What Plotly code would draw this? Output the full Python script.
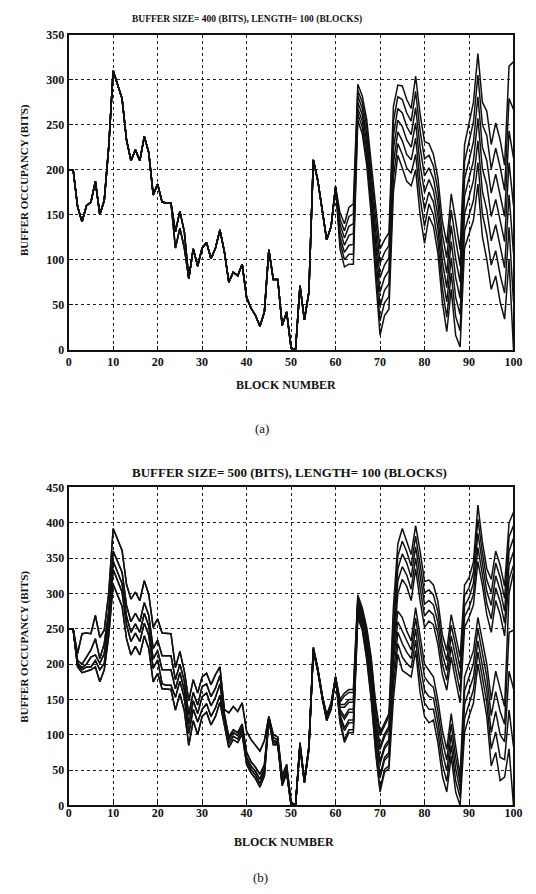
import plotly.graph_objects as go

# ---------------- DATA ----------------
blocks = list(range(101))
x_ticks = [0, 10, 20, 30, 40, 50, 60, 70, 80, 90, 100]
y_ticks_a = [0, 50, 100, 150, 200, 250, 300, 350]
y_ticks_b = [0, 50, 100, 150, 200, 250, 300, 350, 400, 450]
title_a = "BUFFER SIZE= 400 (BITS), LENGTH= 100 (BLOCKS)"
title_b = "BUFFER SIZE= 500 (BITS), LENGTH= 100 (BLOCKS)"

# Panel (a): blocks 0..60 (shared part, two variants)
prefix_a_main = [200, 200, 159, 142, 160, 164, 187, 150, 166, 225,
                 310, 295, 279, 233, 210, 222, 210, 237, 219, 172,
                 184, 164, 163, 163, 131, 154, 131, 79, 112, 93,
                 113, 119, 101, 113, 133, 109, 75, 86, 82, 95,
                 58, 46, 38, 26, 42, 111, 78, 78, 27, 42,
                 2, 0, 71, 33, 64, 211, 188, 155, 122, 137, 181]
prefix_a_alt = [200, 200, 159, 142, 160, 164, 187, 150, 166, 225,
                310, 295, 279, 233, 210, 222, 210, 237, 219, 172,
                184, 164, 163, 163, 113, 135, 113, 79, 112, 93,
                113, 119, 101, 113, 133, 109, 75, 86, 82, 95,
                58, 46, 38, 26, 42, 111, 78, 78, 27, 42,
                2, 0, 71, 33, 64, 211, 188, 155, 122, 137, 181]
# Panel (a): blocks 61..100
tail_a1 = [152, 140, 158, 162, 295, 282, 256, 210, 160, 112, 122, 130, 270, 294, 293, 278, 268, 304, 262, 231,
           229, 217, 191, 143, 118, 173, 143, 111, 228, 250, 275, 329, 275, 265, 228, 252, 233, 205, 315, 320]
tail_a2 = [145, 132, 148, 151, 288, 275, 248, 200, 147, 96, 108, 116, 254, 281, 278, 263, 254, 287, 243, 212,
           216, 204, 177, 128, 102, 155, 122, 93, 209, 230, 253, 305, 250, 238, 201, 224, 203, 177, 279, 267]
tail_a3 = [139, 124, 137, 140, 282, 268, 239, 190, 133, 80, 94, 102, 238, 268, 263, 248, 239, 269, 225, 193,
           202, 190, 163, 113, 85, 138, 101, 75, 190, 210, 231, 281, 225, 210, 174, 195, 173, 148, 243, 213]
tail_a4 = [132, 116, 127, 129, 275, 261, 231, 180, 120, 64, 80, 88, 223, 255, 248, 233, 225, 252, 206, 175,
           189, 177, 149, 98, 69, 120, 80, 57, 171, 190, 210, 257, 201, 183, 148, 167, 143, 120, 208, 160]
tail_a5 = [125, 108, 116, 117, 268, 254, 222, 170, 107, 48, 66, 73, 207, 242, 232, 217, 211, 235, 187, 156,
           175, 164, 135, 83, 53, 102, 58, 39, 151, 169, 188, 232, 176, 155, 121, 139, 113, 91, 172, 107]
tail_a6 = [119, 100, 106, 106, 262, 247, 214, 160, 93, 32, 52, 59, 191, 229, 217, 202, 196, 217, 169, 137,
           162, 150, 121, 68, 36, 85, 37, 21, 132, 149, 166, 208, 151, 128, 94, 110, 83, 63, 136, 53]
tail_a7 = [112, 92, 95, 95, 255, 240, 205, 150, 80, 16, 38, 45, 175, 216, 202, 187, 182, 200, 150, 118,
           148, 137, 107, 53, 20, 67, 16, 3, 113, 129, 144, 184, 126, 100, 67, 82, 53, 34, 100, 0]

# Panel (b): blocks 0..60
prefix_b1 = [250, 250, 215, 243, 244, 243, 269, 238, 248, 300,
             392, 375, 361, 313, 292, 302, 290, 318, 299, 252,
             264, 244, 243, 243, 195, 218, 190, 148, 178, 159,
             182, 187, 171, 185, 196, 136, 131, 140, 133, 145,
             105, 93, 85, 77, 92, 126, 100, 97, 42, 58,
             5, 0, 89, 35, 84, 224, 194, 156, 128, 145, 182]
prefix_b2 = [250, 250, 205, 200, 210, 220, 236, 208, 229, 275,
             360, 345, 330, 283, 260, 272, 260, 287, 269, 222,
             234, 212, 212, 212, 178, 200, 176, 128, 160, 142,
             168, 172, 154, 166, 184, 130, 97, 107, 103, 115,
             75, 62, 54, 44, 58, 124, 96, 93, 35, 52,
             3, 0, 86, 34, 82, 222, 193, 155, 126, 142, 182]
prefix_b3 = [250, 250, 201, 195, 200, 210, 213, 201, 215, 262,
             346, 330, 314, 268, 245, 257, 245, 272, 254, 207,
             219, 192, 192, 192, 165, 188, 163, 115, 148, 130,
             154, 159, 141, 153, 172, 126, 93, 103, 99, 110,
             68, 56, 48, 37, 52, 123, 92, 90, 32, 50,
             2, 0, 85, 33, 81, 221, 192, 154, 124, 140, 181]
prefix_b4 = [250, 250, 198, 192, 196, 196, 205, 192, 201, 250,
             334, 318, 302, 256, 232, 244, 232, 258, 241, 194,
             206, 172, 170, 170, 153, 176, 152, 102, 136, 118,
             136, 144, 126, 138, 156, 120, 88, 98, 94, 106,
             63, 51, 43, 31, 47, 122, 89, 88, 30, 48,
             1, 0, 84, 33, 80, 220, 191, 153, 122, 138, 181]
prefix_b5 = [250, 250, 196, 188, 190, 192, 196, 175, 192, 240,
             313, 298, 282, 236, 213, 225, 213, 240, 222, 175,
             187, 165, 164, 164, 135, 158, 134, 85, 120, 100,
             126, 132, 114, 126, 146, 115, 82, 93, 89, 101,
             58, 46, 38, 26, 42, 121, 86, 86, 28, 46,
             0, 0, 83, 32, 79, 219, 190, 152, 120, 136, 180]
# Panel (b): blocks 61..100, upper group
tail_bu1 = [150, 159, 164, 164, 298, 280, 252, 210, 145, 103, 117, 130, 280, 370, 392, 375, 355, 396, 360, 317,
            319, 312, 289, 242, 219, 270, 242, 210, 312, 322, 345, 425, 373, 335, 320, 360, 340, 310, 400, 415]
tail_bu2 = [143, 143, 150, 150, 291, 273, 242, 196, 129, 83, 101, 112, 264, 353, 374, 359, 339, 381, 343, 301,
            305, 298, 274, 228, 205, 255, 226, 194, 297, 308, 330, 405, 358, 319, 301, 343, 323, 293, 380, 396]
tail_bu3 = [136, 126, 136, 136, 284, 266, 231, 182, 112, 63, 84, 93, 248, 335, 356, 343, 323, 366, 325, 285,
            290, 284, 259, 214, 191, 240, 210, 178, 282, 294, 315, 385, 343, 303, 283, 325, 305, 275, 360, 378]
tail_bu4 = [128, 110, 121, 121, 277, 259, 221, 168, 96, 43, 68, 75, 231, 318, 338, 326, 306, 350, 308, 268,
            276, 270, 243, 200, 177, 225, 193, 161, 267, 280, 299, 365, 327, 286, 264, 308, 288, 258, 340, 359]
tail_bu5 = [121, 93, 107, 107, 270, 252, 210, 154, 79, 23, 51, 56, 215, 300, 320, 310, 290, 335, 290, 252,
            261, 256, 228, 186, 163, 210, 177, 145, 252, 266, 284, 345, 312, 270, 245, 290, 270, 240, 320, 340]
# Panel (b): blocks 61..100, lower group
tail_bd1 = [146, 155, 160, 160, 294, 276, 248, 206, 141, 99, 113, 126, 220, 275, 266, 247, 233, 280, 240, 200,
            191, 182, 149, 107, 79, 130, 84, 42, 182, 200, 219, 266, 233, 200, 150, 190, 165, 140, 300, 330]
tail_bd2 = [139, 139, 146, 146, 287, 269, 238, 192, 125, 79, 97, 108, 203, 260, 247, 232, 220, 265, 220, 182,
            173, 167, 134, 91, 64, 115, 68, 32, 162, 182, 201, 250, 216, 182, 127, 161, 133, 115, 245, 248]
tail_bd3 = [132, 122, 132, 132, 280, 262, 227, 178, 108, 59, 80, 89, 185, 245, 229, 217, 208, 250, 200, 163,
            154, 152, 119, 75, 49, 100, 52, 21, 143, 163, 182, 233, 198, 163, 103, 133, 100, 90, 190, 165]
tail_bd4 = [124, 106, 117, 117, 273, 255, 217, 164, 92, 39, 64, 71, 168, 229, 210, 201, 195, 234, 180, 145,
            136, 136, 104, 58, 34, 85, 35, 11, 123, 145, 164, 217, 181, 145, 80, 104, 68, 65, 135, 83]
tail_bd5 = [117, 89, 103, 103, 266, 248, 206, 150, 75, 19, 47, 52, 150, 214, 191, 186, 182, 219, 160, 126,
            117, 121, 89, 42, 19, 70, 19, 0, 103, 126, 145, 200, 163, 126, 56, 75, 35, 40, 80, 0]

# ---------------- FIGURE ----------------
W, H = 536, 894
OFF = 8  # the page body adds an 8px margin; positions below are screen pixels
SERIF = "Liberation Serif, Times New Roman, serif"
INK = "#111111"
LINE = dict(color=INK, width=1.5)

series_a = [prefix_a_main + tail_a1, prefix_a_main + tail_a2, prefix_a_main + tail_a3,
            prefix_a_main + tail_a4, prefix_a_alt + tail_a5, prefix_a_alt + tail_a6,
            prefix_a_alt + tail_a7]
series_b = [prefix_b1 + tail_bu1, prefix_b2 + tail_bu2, prefix_b3 + tail_bu3,
            prefix_b4 + tail_bu4, prefix_b5 + tail_bu5,
            prefix_b1 + tail_bd1, prefix_b2 + tail_bd2, prefix_b3 + tail_bd3,
            prefix_b4 + tail_bd4, prefix_b5 + tail_bd5]

fig = go.Figure()
for s in series_a:
    fig.add_trace(go.Scatter(x=blocks, y=s, mode="lines", line=LINE,
                             xaxis="x", yaxis="y", showlegend=False, hoverinfo="skip"))
for s in series_b:
    fig.add_trace(go.Scatter(x=blocks, y=s, mode="lines", line=LINE,
                             xaxis="x2", yaxis="y2", showlegend=False, hoverinfo="skip"))


def px_x(p):
    return (p - OFF) / W


def px_y(p):
    return 1 - (p - OFF) / H


axis_common = dict(
    showgrid=True, gridcolor="#222222", griddash="dot", gridwidth=1,
    showline=True, linecolor=INK, linewidth=2, mirror=True,
    ticks="inside", ticklen=4, tickcolor=INK, zeroline=False,
    tickfont=dict(family=SERIF, size=12, color=INK, weight="bold"),
    fixedrange=True,
)

fig.update_layout(
    width=W, height=H,
    margin=dict(l=0, r=0, t=0, b=0),
    paper_bgcolor="white", plot_bgcolor="white",
    xaxis=dict(domain=[px_x(67), px_x(522)], range=[0, 100], tickvals=x_ticks,
               anchor="y", ticklabelstandoff=0, **axis_common),
    yaxis=dict(domain=[px_y(348), px_y(28)], range=[0, 350], tickvals=y_ticks_a,
               anchor="x", ticklabelstandoff=0, **axis_common),
    xaxis2=dict(domain=[px_x(67), px_x(522)], range=[0, 100], tickvals=x_ticks,
                anchor="y2", ticklabelstandoff=-5, **axis_common),
    yaxis2=dict(domain=[px_y(811), px_y(488)], range=[0, 450], tickvals=y_ticks_b,
                anchor="x2", ticklabelstandoff=0, **axis_common),
)


def label(text, x, y, size, bold=True, angle=0):
    fig.add_annotation(text=text, x=px_x(x), y=px_y(y), xref="paper", yref="paper",
                       showarrow=False, textangle=angle, xanchor="center", yanchor="middle",
                       font=dict(family=SERIF, size=size, color=INK,
                                 weight="bold" if bold else "normal"))


label(title_a, 249, 13, 9.5)
label(title_b, 293, 473, 13)
label("BLOCK NUMBER", 289, 384, 12)
label("BLOCK NUMBER", 287, 848, 12)
label("(a)", 265, 428, 13, bold=False)
label("(b)", 263, 884, 13, bold=False)
label("BUFFER OCCUPANCY (BITS)", 22, 176, 11, angle=-90)
label("BUFFER OCCUPANCY (BITS)", 22, 650, 11, angle=-90)

fig.write_html("out.html")
